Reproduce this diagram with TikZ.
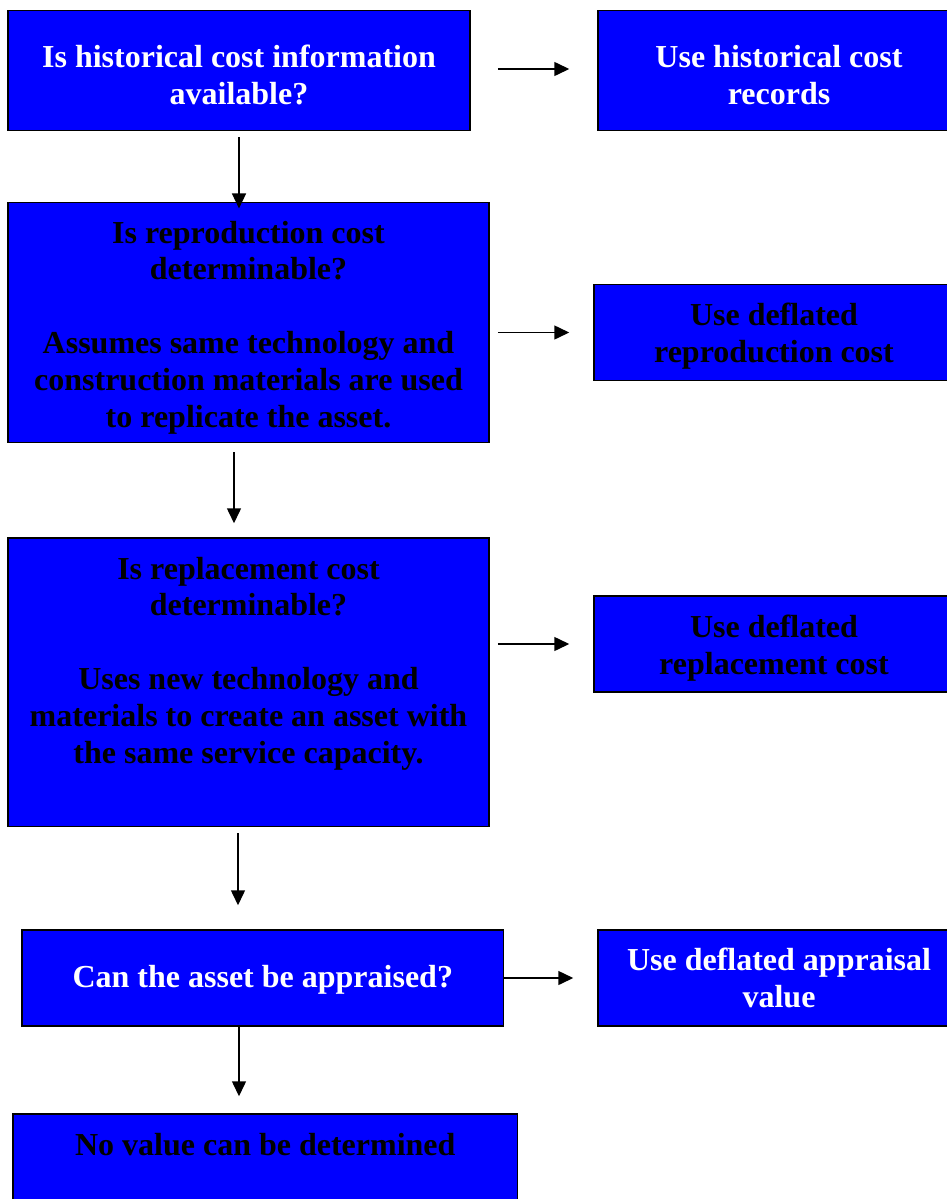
\documentclass[tikz,border=0pt]{standalone}
\usepackage{fontspec}
\setmainfont{Liberation Serif}
\usetikzlibrary{arrows.meta,calc}
\definecolor{boxblue}{RGB}{0,0,255}
\tikzset{
  box/.style={draw=black, line width=1.5pt, fill=boxblue, rectangle, inner sep=0pt},
  txt/.style={align=center, inner sep=0pt, anchor=base,
              font=\fontsize{32}{36.8}\selectfont\bfseries},
  wtxt/.style={txt, text=white},
  btxt/.style={txt, text=black},
  arr/.style={line width=1.5pt, -{Triangle[length=15pt,width=14pt]}},
}
\begin{document}
\begin{tikzpicture}[x=1pt,y=-1pt]
\useasboundingbox (0,0) rectangle (947,1199);
\clip (0,0) rectangle (947,1199);
% boxes
\node[box, minimum width=462pt, minimum height=120pt]   (b1) at (239,70.7) {};
\node[box, minimum width=362pt, minimum height=120pt]   (b2) at (779,70.7) {};
\node[box, minimum width=481pt, minimum height=240pt]   (b3) at (248.5,322.7) {};
\node[box, minimum width=360pt, minimum height=96.4pt]  (b4) at (774,332.5) {};
\node[box, minimum width=481pt, minimum height=288.7pt] (b5) at (248.5,682.35) {};
\node[box, minimum width=360pt, minimum height=96pt]    (b6) at (774,644) {};
\node[box, minimum width=481.6pt, minimum height=96pt]  (b7) at (262.8,978) {};
\node[box, minimum width=362pt, minimum height=96pt]    (b8) at (779,978) {};
\node[box, minimum width=504.5pt, minimum height=126pt] (b9) at (265.25,1177) {};
% texts (positioned by the baseline of their last line)
\node[wtxt] (t1) at (239,104.5) {Is historical cost information\\available?};
\node[wtxt] (t2) at (779,104.5) {Use historical cost\\records};
\node[btxt] (t3) at (248.5,427) {Is reproduction cost\\determinable?\\[36.8pt]Assumes same technology and\\construction materials are used\\to replicate the asset.};
\node[btxt] (t4) at (774,362) {Use deflated\\reproduction cost};
\node[btxt] (t5) at (248.5,763) {Is replacement cost\\determinable?\\[36.8pt]Uses new technology and\\materials to create an asset with\\the same service capacity.};
\node[btxt] (t6) at (774,674.5) {Use deflated\\replacement cost};
\node[wtxt] (t7) at (262.8,987) {Can the asset be appraised?};
\node[wtxt] (t8) at (779,1007) {Use deflated appraisal\\value};
\node[btxt] (t9) at (265.25,1155) {No value can be determined};
% arrows
\draw[arr] ($(b1.east)+(27,-1.7)$) -- ($(b2.west)+(-28,-1.7)$);
\draw[arr] ($(b3.east |- b4.west)+(8,0)$) -- ($(b4.west)+(-24,0)$);
\draw[arr] ($(b5.east |- b6.west)+(8,0)$) -- ($(b6.west)+(-24,0)$);
\draw[arr] (b7.east) -- ($(b8.west)+(-24,0)$);
\coordinate (c1) at ($(b1.south)+(0,6)$);
\draw[arr] (c1) -- ($(b3.north -| c1)+(0,6.5)$);
\coordinate (c3) at ($(b3.south)+(-14.5,9)$);
\draw[arr] (c3) -- ($(b5.north -| c3)+(0,-14)$);
\coordinate (c5) at ($(b5.south)+(-10.5,6)$);
\draw[arr] (c5) -- ($(b7.north -| c5)+(0,-24)$);
\coordinate (c7) at ($(b7.south)+(-23.8,0)$);
\draw[arr] (c7) -- ($(b9.north -| c7)+(0,-17)$);
\end{tikzpicture}
\end{document}
